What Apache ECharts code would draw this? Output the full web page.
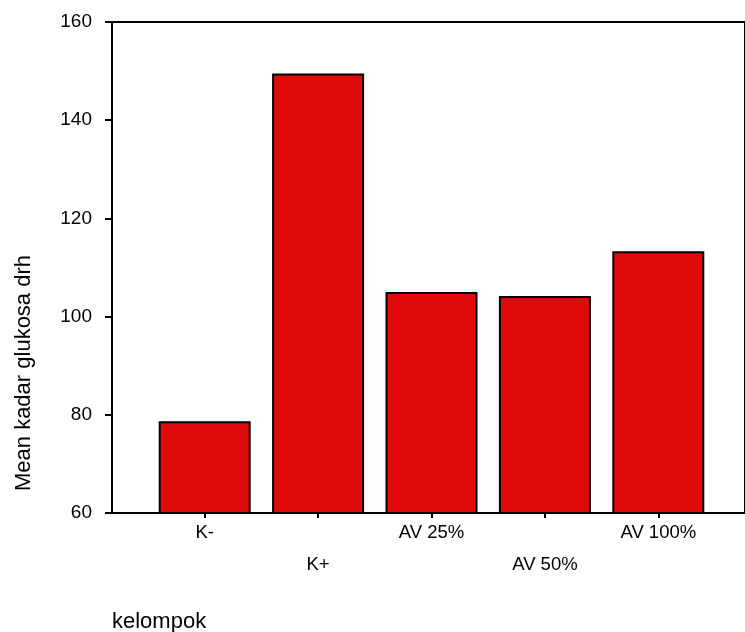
<!DOCTYPE html>
<html>
<head>
<meta charset="utf-8">
<script src="https://cdn.jsdelivr.net/npm/echarts@6/dist/echarts.min.js"></script>
<style>html,body{margin:0;padding:0;background:#fff;}#c{width:745px;height:632px;}</style>
</head>
<body>
<div id="c"></div>
<script>
const categories = ['K-', 'K+', 'AV 25%', 'AV 50%', 'AV 100%'];
const meanValues = [78.7, 149.5, 105.0, 104.2, 113.3];
const yTicks = [60, 80, 100, 120, 140, 160];
const yTitle = 'Mean kadar glukosa drh';
const xTitle = 'kelompok';

const FONT = 'Liberation Sans, Arial, sans-serif';
const chart = echarts.init(document.getElementById('c'), null, {renderer: 'canvas'});
const yMin = yTicks[0], yMax = yTicks[yTicks.length - 1];

chart.setOption({
  animation: false,
  backgroundColor: '#ffffff',
  title: {
    text: xTitle, left: 107, top: 606,
    textStyle: {fontFamily: FONT, fontSize: 22, fontWeight: 'normal', color: '#000'}
  },
  graphic: [{
    type: 'text', x: 24, y: 373, rotation: Math.PI / 2,
    style: {text: yTitle, fontFamily: FONT, fontSize: 22, fill: '#000', align: 'center', verticalAlign: 'middle'}
  }],
  grid: [
    {left: 112, right: -3, top: 22, bottom: 119, show: true, borderColor: '#000', borderWidth: 2, backgroundColor: 'transparent'},
    {left: 148, right: 30, top: 22, bottom: 119}
  ],
  xAxis: [
    {type: 'value', gridIndex: 0, show: false, min: 0, max: 1},
    {
      type: 'category', gridIndex: 1, data: categories,
      axisLine: {show: false},
      axisTick: {show: true, alignWithLabel: true, length: 5, lineStyle: {color: '#000', width: 2}},
      axisLabel: {
        interval: 0, color: '#000', fontFamily: FONT, fontSize: 18.5, lineHeight: 32, margin: 4,
        formatter: (v, i) => (i % 2 === 1 ? '\n' + v : v)
      }
    }
  ],
  yAxis: [
    {
      type: 'value', gridIndex: 0, min: yMin, max: yMax, interval: 20,
      axisLine: {show: true, lineStyle: {color: '#000', width: 2}},
      axisTick: {show: true, length: 7, lineStyle: {color: '#000', width: 2}},
      axisLabel: {color: '#000', fontFamily: FONT, fontSize: 19, margin: 20},
      splitLine: {show: false}
    },
    {type: 'value', gridIndex: 1, min: yMin, max: yMax, show: false, splitLine: {show: false}}
  ],
  series: [{
    type: 'bar', xAxisIndex: 1, yAxisIndex: 1,
    data: meanValues, barWidth: 92,
    itemStyle: {color: '#e10a0a', borderColor: '#000', borderWidth: 2}
  }]
});
</script>
</body>
</html>
